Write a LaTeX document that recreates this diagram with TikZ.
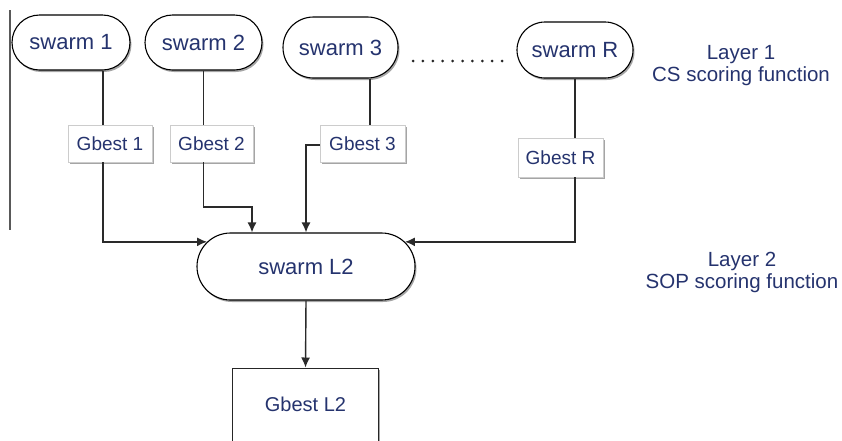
\documentclass[tikz,border=0pt]{standalone}
\usepackage{fontspec}
\setmainfont{Liberation Sans}
\usetikzlibrary{shapes.misc,arrows.meta,shadows}
\definecolor{navy}{HTML}{25336E}
\definecolor{wire}{HTML}{2A2A2A}
\tikzset{
  softshadow/.style={drop shadow={shadow xshift=1.5pt, shadow yshift=-2pt, opacity=.5, fill=black!70}},
  swarmnode/.style={rounded rectangle, draw=black, line width=1.1pt, fill=white, text=navy,
    inner sep=0pt, font=\fontsize{22}{26}\selectfont, softshadow},
  gbestnode/.style={rectangle, draw=gray!40, line width=.8pt, fill=white, text=navy,
    inner sep=0pt, font=\fontsize{19}{22}\selectfont, softshadow},
  link/.style={draw=wire, line width=1.4pt},
  arr/.style={link, -{Latex[length=10pt,width=9pt]}},
  layertext/.style={text=navy, align=center, font=\fontsize{20.5}{22}\selectfont}
}
\begin{document}
\begin{tikzpicture}[x=1pt,y=-1pt]
      \useasboundingbox (0,0) rectangle (842,440);
      \clip (0,0) rectangle (842,440);
      \draw[gray!70!black, line width=1.5pt] (10,10) -- (10,230);

      \node[swarmnode, minimum width=118pt, minimum height=55pt] (s1) at (71,42.5) {swarm 1};
      \node[swarmnode, minimum width=117pt, minimum height=55pt] (s2) at (203.5,42.5) {swarm 2};
      \node[swarmnode, minimum width=115pt, minimum height=61pt] (s3) at (340.5,47.5) {swarm 3};
      \node[swarmnode, minimum width=116pt, minimum height=56pt] (sR) at (575,50) {swarm R};
      \foreach \i in {0,...,9}
        \fill[black!85] (413+\i*9.9,61) circle (1.5pt);

      \node[gbestnode, minimum width=84pt, minimum height=37pt] (g1) at (110,143.5) {Gbest 1};
      \node[gbestnode, minimum width=83pt, minimum height=37pt] (g2) at (211.5,143.5) {Gbest 2};
      \node[gbestnode, minimum width=85pt, minimum height=37pt] (g3) at (362.5,143.5) {Gbest 3};
      \node[gbestnode, minimum width=85pt, minimum height=39pt] (gR) at (560.5,157.5) {Gbest R};

      \node[swarmnode, minimum width=218pt, minimum height=67pt] (L2) at (306,266.5) {swarm L2};
      \node[rectangle, draw=black!85, line width=1pt, fill=white, text=navy, softshadow,
        minimum width=146pt, minimum height=76pt, inner sep=0pt,
        font=\fontsize{20}{24}\selectfont] (gL2) at (305.5,406) {\raisebox{4pt}{Gbest L2}};

      \node[layertext] (lay1) at (741,66) {Layer 1\\CS scoring function};
      \node[layertext] (lay2) at (742,272.5) {Layer 2\\SOP scoring function};

      \coordinate (c1) at (103,0);
      \coordinate (c3) at (370,0);
      \coordinate (k2) at (252,207);

      \draw[link] (s1.south -| c1) -- (g1.north -| c1);
      \draw[link] (s2.south) -- (g2.north -| s2.south);
      \draw[link] (s3.south -| c3) -- (g3.north -| c3);
      \draw[link] (sR.south) -- (gR.north -| sR.south);

      \draw[arr] (g1.south -| c1) |- (L2.166);
      \draw[arr] (g2.south -| s2.south) |- (k2) -- (L2.north -| k2);
      \draw[arr] (g3.west |- 0,145) -| (L2.north);
      \draw[arr] (gR.south -| sR.south) |- (L2.14);
      \draw[arr] (L2.south) -- (gL2.north);
\end{tikzpicture}
\end{document}
